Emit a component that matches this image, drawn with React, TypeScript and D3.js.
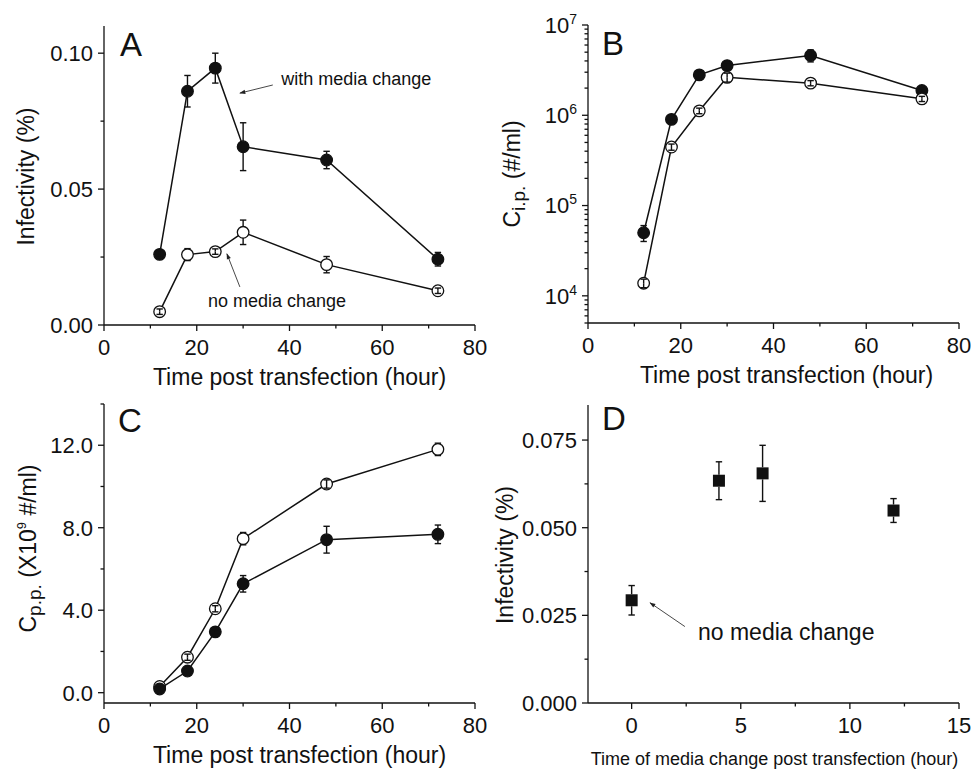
import React from 'react';
import * as d3 from 'd3';

// ---------------- data ----------------
const hours = [12, 18, 24, 30, 48, 72];

// Panel A: infectivity (%)
const infWith = [0.026, 0.086, 0.0945, 0.0656, 0.0607, 0.0242];
const infWithErr = [0.0012, 0.0058, 0.0055, 0.0088, 0.0032, 0.0025];
const infNo = [0.0049, 0.0259, 0.027, 0.0341, 0.0222, 0.0126];
const infNoErr = [0.001, 0.0022, 0.001, 0.0045, 0.003, 0.001];

// Panel B: C_i.p. (#/ml)
const cipWith = [5.0e4, 9.0e5, 2.8e6, 3.55e6, 4.6e6, 1.88e6];
const cipWithErr = [1.0e4, 5e4, 2e5, 3e5, 7e5, 1e5];
const cipNo = [1.38e4, 4.45e5, 1.12e6, 2.63e6, 2.27e6, 1.52e6];
const cipNoErr = [1.5e3, 3.5e4, 8e4, 3e5, 1.5e5, 1e5];

// Panel C: C_p.p. (x10^9 #/ml)
const cppNo = [0.3, 1.72, 4.07, 7.47, 10.12, 11.8];
const cppNoErr = [0.1, 0.15, 0.15, 0.3, 0.2, 0.3];
const cppWith = [0.18, 1.05, 2.95, 5.28, 7.42, 7.68];
const cppWithErr = [0.1, 0.1, 0.1, 0.4, 0.65, 0.45];

// Panel D: infectivity vs time of media change
const changeTime = [0, 4, 6, 12];
const infChange = [0.0293, 0.0634, 0.0655, 0.0549];
const infChangeErr = [0.0042, 0.0054, 0.008, 0.0034];

// ticks
const xTicksMajor = [0, 20, 40, 60, 80];
const xTicksMinor = [10, 30, 50, 70];
const aYMajor = [0, 0.05, 0.1];
const aYLabels = ['0.00', '0.05', '0.10'];
const aYMinor = [0.025, 0.075];
const bYMajor = [1e4, 1e5, 1e6, 1e7];
const bYExp = ['4', '5', '6', '7'];
const cYMajor = [0, 4, 8, 12];
const cYLabels = ['0.0', '4.0', '8.0', '12.0'];
const cYMinor = [2, 6, 10, 14];
const dXMajor = [0, 5, 10, 15];
const dXMinor = [2.5, 7.5, 12.5];
const dYMajor = [0, 0.025, 0.05, 0.075];
const dYLabels = ['0.000', '0.025', '0.050', '0.075'];
const dYMinor = [0.0125, 0.0375, 0.0625];

// ---------------- layout ----------------
const W = 974;
const H = 770;
const FONT = "'Liberation Sans', Arial, Helvetica, sans-serif";
const INK = '#111';

const gA = { l: 104, r: 475, t: 26, b: 325 };
const gB = { l: 588, r: 959, t: 25, b: 323 };
const gC = { l: 104, r: 475, t: 404, b: 703 };
const gD = { l: 588, r: 959, t: 405, b: 703 };

const xA = d3.scaleLinear().domain([0, 80]).range([gA.l, gA.r]);
const yA = d3.scaleLinear().domain([0, 0.11]).range([gA.b, gA.t]);
const xB = d3.scaleLinear().domain([0, 80]).range([gB.l, gB.r]);
const yB = d3.scaleLog().domain([5000, 1e7]).range([gB.b, gB.t]);
const xC = d3.scaleLinear().domain([0, 80]).range([gC.l, gC.r]);
const yC = d3.scaleLinear().domain([-0.5, 14]).range([gC.b, gC.t]);
const xD = d3.scaleLinear().domain([-2, 15]).range([gD.l, gD.r]);
const yD = d3.scaleLinear().domain([0, 0.085]).range([gD.b, gD.t]);

const bYMinor: number[] = [];
[1e3, 1e4, 1e5, 1e6].forEach((dec) => {
  for (let k = 2; k <= 9; k++) {
    const v = k * dec;
    if (v >= 5000 && v < 1e7) bYMinor.push(v);
  }
});

const R = 5.8;
const TICK = 6;
const MINOR = 3.5;

type G = { l: number; r: number; t: number; b: number };

function Axes({ g, x, y, xMajor, xMinor, yMajor, yMinor, yLabel, xLabels }: any) {
  return (
    <g stroke={INK} strokeWidth={1.3} fill="none">
      <line x1={g.l} x2={g.r} y1={g.b} y2={g.b} />
      <line x1={g.l} x2={g.l} y1={g.t} y2={g.b} />
      {xMajor.map((v: number) => (
        <line key={'xM' + v} x1={x(v)} x2={x(v)} y1={g.b} y2={g.b + TICK} />
      ))}
      {xMinor.map((v: number) => (
        <line key={'xm' + v} x1={x(v)} x2={x(v)} y1={g.b} y2={g.b + MINOR} />
      ))}
      {yMajor.map((v: number) => (
        <line key={'yM' + v} x1={g.l - TICK} x2={g.l} y1={y(v)} y2={y(v)} />
      ))}
      {yMinor.map((v: number) => (
        <line key={'ym' + v} x1={g.l - MINOR} x2={g.l} y1={y(v)} y2={y(v)} />
      ))}
      <g stroke="none" fill={INK} fontFamily={FONT} fontSize={22}>
        {xMajor.map((v: number, i: number) => (
          <text key={'xl' + v} x={x(v)} y={g.b + 30} textAnchor="middle">
            {xLabels ? xLabels[i] : String(v)}
          </text>
        ))}
        {yLabel &&
          yMajor.map((v: number, i: number) => (
            <text key={'yl' + v} x={g.l - 11} y={y(v)} dy="0.36em" textAnchor="end">
              {yLabel(v, i)}
            </text>
          ))}
      </g>
    </g>
  );
}

function ErrBar({ cx, cy, yHi, yLo, half }: any) {
  const segs: any[] = [];
  if (cy - yHi > half) segs.push([yHi, cy - half]);
  else segs.push([yHi, cy]);
  if (yLo - cy > half) segs.push([cy + half, yLo]);
  else segs.push([cy, yLo]);
  return (
    <g stroke={INK} strokeWidth={1.4}>
      {segs.map((s, i) => (
        <line key={i} x1={cx} x2={cx} y1={s[0]} y2={s[1]} />
      ))}
      <line x1={cx - 3.2} x2={cx + 3.2} y1={yHi} y2={yHi} />
      <line x1={cx - 3.2} x2={cx + 3.2} y1={yLo} y2={yLo} />
    </g>
  );
}

function Series({ xs, vals, errs, x, y, filled, connect = true, square = false }: any) {
  const pts = xs.map((t: number, i: number) => [x(t), y(vals[i])]);
  const line = d3.line();
  return (
    <g>
      {connect && <path d={line(pts) || ''} fill="none" stroke={INK} strokeWidth={1.5} />}
      {pts.map((p: number[], i: number) =>
        square ? (
          <rect key={'m' + i} x={p[0] - 6} y={p[1] - 6} width={12} height={12} fill={INK} />
        ) : (
          <circle
            key={'m' + i}
            cx={p[0]}
            cy={p[1]}
            r={R}
            fill={filled ? INK : '#fff'}
            stroke={INK}
            strokeWidth={1.3}
          />
        )
      )}
      {pts.map((p: number[], i: number) => (
        <ErrBar
          key={'e' + i}
          cx={p[0]}
          cy={p[1]}
          yHi={y(vals[i] + errs[i])}
          yLo={y(vals[i] - errs[i])}
          half={square ? 6 : R}
        />
      ))}
    </g>
  );
}

function Arrow({ x1, y1, x2, y2 }: any) {
  return (
    <line
      x1={x1}
      y1={y1}
      x2={x2}
      y2={y2}
      stroke="#333"
      strokeWidth={0.9}
      markerEnd="url(#arrowhead)"
    />
  );
}

export default function App() {
  const letter = { fontFamily: FONT, fontSize: 33, fill: INK };
  const title = { fontFamily: FONT, fontSize: 23, fill: INK };
  return (
    <svg
      width={W}
      height={H}
      viewBox={`0 0 ${W} ${H}`}
      style={{ position: 'absolute', left: 0, top: 0, background: '#fff' }}
    >
      <defs>
        <marker
          id="arrowhead"
          viewBox="0 0 10 10"
          refX="9"
          refY="5"
          markerWidth="9"
          markerHeight="6"
          orient="auto"
          markerUnits="userSpaceOnUse"
        >
          <path d="M0,1.5 L10,5 L0,8.5 z" fill="#222" />
        </marker>
      </defs>
      <rect width={W} height={H} fill="#fff" />

      {/* Panel A */}
      <Axes
        g={gA}
        x={xA}
        y={yA}
        xMajor={xTicksMajor}
        xMinor={xTicksMinor}
        yMajor={aYMajor}
        yMinor={aYMinor}
        yLabel={(v: number, i: number) => aYLabels[i]}
      />
      <Series xs={hours} vals={infWith} errs={infWithErr} x={xA} y={yA} filled />
      <Series xs={hours} vals={infNo} errs={infNoErr} x={xA} y={yA} filled={false} />
      <text x={120} y={56} {...letter}>A</text>
      <text x={(gA.l + gA.r) / 2 + 10} y={gA.b + 60} textAnchor="middle" {...title}>
        Time post transfection (hour)
      </text>
      <text transform={`translate(26,${(gA.t + gA.b) / 2 + 1}) rotate(-90)`} textAnchor="middle" dy="0.35em" {...title}>
        Infectivity (%)
      </text>
      <text x={xA(38.2)} y={yA(0.0883)} fontFamily={FONT} fontSize={18} fill={INK}>
        with media change
      </text>
      <Arrow x1={xA(36.4)} y1={yA(0.0883)} x2={xA(29.3)} y2={yA(0.0853)} />
      <text x={xA(22.4)} y={yA(0.0066)} fontFamily={FONT} fontSize={18} fill={INK}>
        no media change
      </text>
      <Arrow x1={xA(29.3)} y1={yA(0.014)} x2={xA(26.5)} y2={yA(0.0262)} />

      {/* Panel B */}
      <Axes
        g={gB}
        x={xB}
        y={yB}
        xMajor={xTicksMajor}
        xMinor={xTicksMinor}
        yMajor={bYMajor}
        yMinor={bYMinor}
        yLabel={(v: number, i: number) => (
          <>
            10
            <tspan fontSize={14} dy={-9}>{bYExp[i]}</tspan>
          </>
        )}
      />
      <Series xs={hours} vals={cipWith} errs={cipWithErr} x={xB} y={yB} filled />
      <Series xs={hours} vals={cipNo} errs={cipNoErr} x={xB} y={yB} filled={false} />
      <text x={602} y={55} {...letter}>B</text>
      <text x={(gB.l + gB.r) / 2 + 13} y={gB.b + 60} textAnchor="middle" {...title}>
        Time post transfection (hour)
      </text>
      <text transform={`translate(512,${(gB.t + gB.b) / 2}) rotate(-90)`} textAnchor="middle" dy="0.35em" {...title}>
        C<tspan fontSize={19} dy={5}>i.p.</tspan>
        <tspan dy={-5}> (#/ml)</tspan>
      </text>

      {/* Panel C */}
      <Axes
        g={gC}
        x={xC}
        y={yC}
        xMajor={xTicksMajor}
        xMinor={xTicksMinor}
        yMajor={cYMajor}
        yMinor={cYMinor}
        yLabel={(v: number, i: number) => cYLabels[i]}
      />
      <Series xs={hours} vals={cppNo} errs={cppNoErr} x={xC} y={yC} filled={false} />
      <Series xs={hours} vals={cppWith} errs={cppWithErr} x={xC} y={yC} filled />
      <text x={118} y={432} {...letter}>C</text>
      <text x={(gC.l + gC.r) / 2 + 10} y={gC.b + 60} textAnchor="middle" {...title}>
        Time post transfection (hour)
      </text>
      <text transform={`translate(28,${(gC.t + gC.b) / 2 - 5}) rotate(-90)`} textAnchor="middle" dy="0.35em" {...title}>
        C<tspan fontSize={19} dy={5}>p.p.</tspan>
        <tspan dy={-5}> (X10</tspan>
        <tspan fontSize={13} dy={-10}>9</tspan>
        <tspan dy={10}> #/ml)</tspan>
      </text>

      {/* Panel D */}
      <Axes
        g={gD}
        x={xD}
        y={yD}
        xMajor={dXMajor}
        xMinor={dXMinor}
        yMajor={dYMajor}
        yMinor={dYMinor}
        yLabel={(v: number, i: number) => dYLabels[i]}
      />
      <Series
        xs={changeTime}
        vals={infChange}
        errs={infChangeErr}
        x={xD}
        y={yD}
        filled
        connect={false}
        square
      />
      <text x={602} y={430} {...letter}>D</text>
      <text x={(gD.l + gD.r) / 2 + 1} y={gD.b + 62} textAnchor="middle" fontFamily={FONT} fontSize={18} fill={INK}>
        Time of media change post transfection (hour)
      </text>
      <text transform={`translate(505,${(gD.t + gD.b) / 2 + 1}) rotate(-90)`} textAnchor="middle" dy="0.35em" {...title}>
        Infectivity (%)
      </text>
      <text x={xD(3.04)} y={yD(0.0181)} fontFamily={FONT} fontSize={23} fill={INK}>
        no media change
      </text>
      <Arrow x1={xD(2.44)} y1={yD(0.0218)} x2={xD(0.84)} y2={yD(0.0286)} />
    </svg>
  );
}
